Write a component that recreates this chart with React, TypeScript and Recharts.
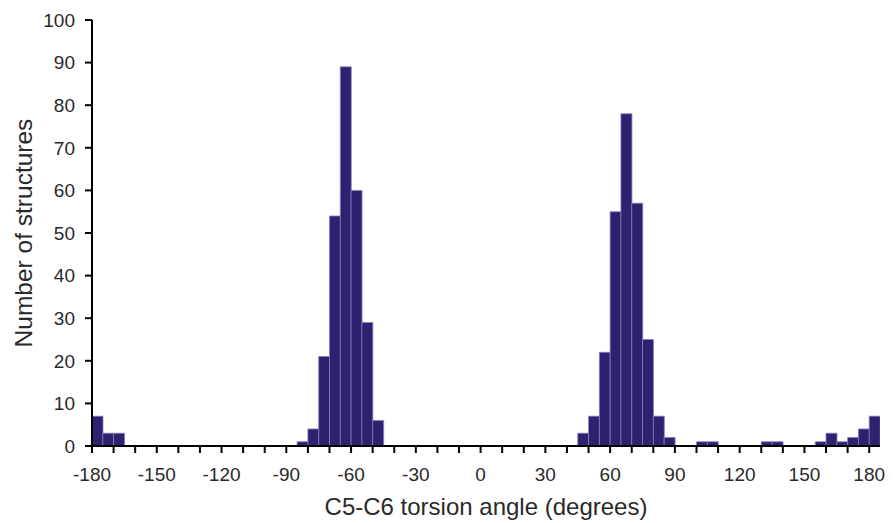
import React from "react";
import { BarChart, Bar, XAxis, YAxis, Label } from "recharts";

const binStarts = [
  -180, -175, -170, -165, -160, -155, -150, -145, -140, -135, -130, -125,
  -120, -115, -110, -105, -100, -95, -90, -85, -80, -75, -70, -65,
  -60, -55, -50, -45, -40, -35, -30, -25, -20, -15, -10, -5,
  0, 5, 10, 15, 20, 25, 30, 35, 40, 45, 50, 55,
  60, 65, 70, 75, 80, 85, 90, 95, 100, 105, 110, 115,
  120, 125, 130, 135, 140, 145, 150, 155, 160, 165, 170, 175,
  180,
];

const counts = [
  7, 3, 3, 0, 0, 0, 0, 0, 0, 0, 0, 0,
  0, 0, 0, 0, 0, 0, 0, 1, 4, 21, 54, 89,
  60, 29, 6, 0, 0, 0, 0, 0, 0, 0, 0, 0,
  0, 0, 0, 0, 0, 0, 0, 0, 0, 3, 7, 22,
  55, 78, 57, 25, 7, 2, 0, 0, 1, 1, 0, 0,
  0, 0, 1, 1, 0, 0, 0, 1, 3, 1, 2, 4,
  7,
];

const xTicks = [
  -180, -170, -160, -150, -140, -130, -120, -110, -100, -90, -80, -70, -60,
  -50, -40, -30, -20, -10, 0, 10, 20, 30, 40, 50, 60, 70, 80, 90, 100, 110,
  120, 130, 140, 150, 160, 170, 180,
];
const xLabeled = [-180, -150, -120, -90, -60, -30, 0, 30, 60, 90, 120, 150, 180];
const yTicks = [0, 10, 20, 30, 40, 50, 60, 70, 80, 90, 100];

const BIN_WIDTH = 5;
const data = binStarts.map((s, i) => ({ x: s + BIN_WIDTH / 2, count: counts[i] }));

const FONT = "'Liberation Sans', Arial, Helvetica, sans-serif";
const TEXT = "#2a2a2a";

export default function App() {
  return (
    <BarChart
      width={885}
      height={515}
      data={data}
      margin={{ top: 12, right: 13, bottom: 0, left: 0 }}
      barCategoryGap={0}
      barGap={0}
    >
      <XAxis
        dataKey="x"
        type="number"
        domain={[-180, 185]}
        ticks={xTicks}
        interval={0}
        allowDataOverflow
        height={77}
        tickSize={7}
        tickMargin={15}
        tickFormatter={(v: number) => (xLabeled.includes(v) ? String(v) : "")}
        axisLine={{ stroke: "#000", strokeWidth: 2 }}
        tickLine={{ stroke: "#000", strokeWidth: 2 }}
        tick={{ fill: TEXT, fontSize: 19, fontFamily: FONT }}
      >
        <Label
          content={() => (
            <text
              x={478}
              y={507}
              textAnchor="middle"
              fill={TEXT}
              fontSize={24}
              fontFamily={FONT}
            >
              C5-C6 torsion angle (degrees)
            </text>
          )}
        />
      </XAxis>
      <YAxis
        type="number"
        domain={[0, 100]}
        ticks={yTicks}
        interval={0}
        width={84}
        tickSize={7}
        tickMargin={10}
        axisLine={{ stroke: "#000", strokeWidth: 2 }}
        tickLine={{ stroke: "#000", strokeWidth: 2 }}
        tick={{ fill: TEXT, fontSize: 19, fontFamily: FONT }}
      >
        <Label
          content={() => (
            <text
              x={0}
              y={0}
              transform="translate(23.5, 225) rotate(-90)"
              textAnchor="middle"
              fill={TEXT}
              fontSize={24.5}
              fontFamily={FONT}
            >
              Number of structures
            </text>
          )}
        />
      </YAxis>
      <Bar
        dataKey="count"
        fill="#2d2170"
        stroke="#8a82c2"
        strokeWidth={0.8}
        isAnimationActive={false}
      />
    </BarChart>
  );
}
